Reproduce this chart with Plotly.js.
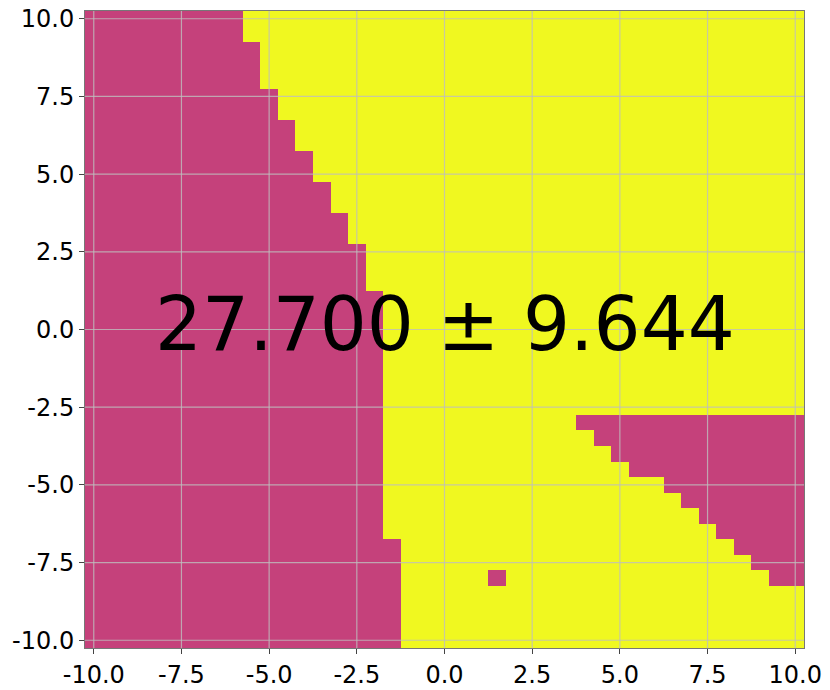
<!DOCTYPE html>
<html>
<head>
<meta charset="utf-8">
<script src="https://cdn.plot.ly/plotly-3.0.1.min.js"></script>
<style>
  body { margin: 0; background: #fff; }
  #plot { width: 830px; height: 690px; }
</style>
</head>
<body>
<div id="plot"></div>
<script>
// grid cell centres, rows listed top (y = 10) to bottom (y = -10)
var gridX = [-10, -9.5, -9, -8.5, -8, -7.5, -7, -6.5, -6, -5.5, -5, -4.5, -4, -3.5, -3, -2.5, -2, -1.5, -1, -0.5,
             0, 0.5, 1, 1.5, 2, 2.5, 3, 3.5, 4, 4.5, 5, 5.5, 6, 6.5, 7, 7.5, 8, 8.5, 9, 9.5, 10];
var gridY = gridX.slice().reverse();

// last magenta cell (x) of the left region, one per row
var leftEnd = [-6, -6,
               -5.5, -5.5, -5.5,
               -5, -5,
               -4.5, -4.5,
               -4, -4,
               -3.5, -3.5,
               -3, -3,
               -2.5, -2.5, -2.5,
               -2, -2, -2, -2, -2, -2, -2, -2, -2, -2, -2, -2, -2, -2, -2, -2,
               -1.5, -1.5, -1.5, -1.5, -1.5, -1.5, -1.5];

// first magenta cell (x) of the lower right wedge, null = none
var rightStart = [null, null, null, null, null, null, null, null, null, null, null, null, null,
                  null, null, null, null, null, null, null, null, null, null, null, null, null,
                  4, 4.5, 5, 5.5, 6.5, 7, 7.5, 8, 8.5, 9, 9.5,
                  null, null, null, null];

// single stray cell
var strayX = [1.5];
var strayY = [-8];

var tickVals = [-10, -7.5, -5, -2.5, 0, 2.5, 5, 7.5, 10];
var tickText = ["-10.0", "-7.5", "-5.0", "-2.5", "0.0", "2.5", "5.0", "7.5", "10.0"];

var scoreText = "27.700 \u00b1 9.644";

var magenta = "#c5417b";
var yellow = "#f0f820";

// 0 = magenta, 1 = yellow
var z = gridY.map(function(y, r) {
    return gridX.map(function(x) {
        if (x <= leftEnd[r]) return 0;
        if (rightStart[r] !== null && x >= rightStart[r]) return 0;
        for (var k = 0; k < strayX.length; k++) {
            if (strayX[k] === x && strayY[k] === y) return 0;
        }
        return 1;
    });
});

var trace = {
    type: "heatmap",
    x: gridX,
    y: gridY,
    z: z,
    zmin: 0,
    zmax: 1,
    colorscale: [[0, magenta], [1, yellow]],
    showscale: false,
    hoverinfo: "skip"
};

// grid lines drawn over the heatmap
var gridColor = "rgba(190,190,190,0.8)";
var shapes = [];
tickVals.forEach(function(v) {
    shapes.push({type: "line", xref: "x", yref: "paper", x0: v, x1: v, y0: 0, y1: 1,
                 line: {color: gridColor, width: 1.2}, layer: "above"});
    shapes.push({type: "line", xref: "paper", yref: "y", x0: 0, x1: 1, y0: v, y1: v,
                 line: {color: gridColor, width: 1.2}, layer: "above"});
});

var axisCommon = {
    range: [-10.25, 10.25],
    tickmode: "array",
    tickvals: tickVals,
    ticktext: tickText,
    ticks: "outside",
    ticklen: 5,
    tickcolor: "#444",
    tickfont: {family: "DejaVu Sans", size: 24, color: "#000"},
    showgrid: false,
    zeroline: false,
    showline: true,
    mirror: true,
    linecolor: "#777",
    linewidth: 1
};

var layout = {
    width: 830,
    height: 690,
    margin: {l: 85, r: 26, t: 11, b: 42},
    paper_bgcolor: "#fff",
    plot_bgcolor: "#fff",
    xaxis: Object.assign({}, axisCommon),
    yaxis: Object.assign({}, axisCommon),
    shapes: shapes,
    annotations: [{
        x: 0, y: 0, xref: "x", yref: "y",
        text: scoreText,
        showarrow: false,
        yshift: 6,
        font: {family: "DejaVu Sans", size: 74, color: "#000"}
    }],
    showlegend: false
};

Plotly.newPlot("plot", [trace], layout, {displayModeBar: false, staticPlot: true});
</script>
</body>
</html>
